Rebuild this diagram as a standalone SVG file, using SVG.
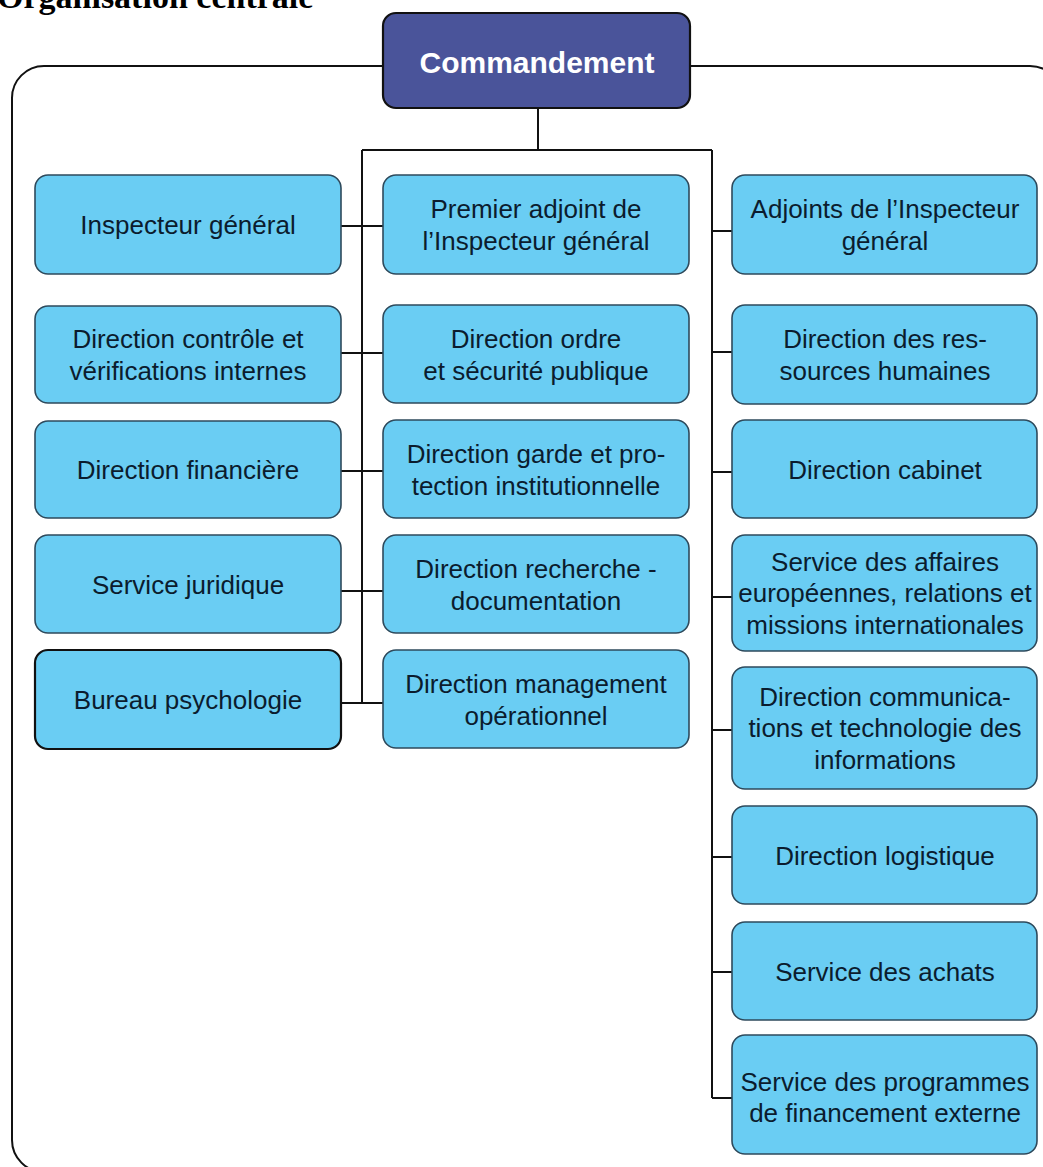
<svg xmlns="http://www.w3.org/2000/svg" width="1043" height="1167" viewBox="0 0 1043 1167">
<style>
.box{fill:#6ACDF3;stroke:#2E4A5C;stroke-width:1.6}
.box2{fill:#6ACDF3;stroke:#111;stroke-width:2.2}
.t{font-family:"Liberation Sans",Arial,sans-serif;font-size:26px;fill:#0B1C2E;text-anchor:middle}
.ln{fill:none;stroke:#111;stroke-width:2}
</style>
<rect width="1043" height="1167" fill="#fff"/>
<text x="-3" y="8" font-family="Liberation Serif,'Times New Roman',serif" font-weight="bold" font-size="34" fill="#000">Organisation centrale</text>
<rect id="frame" x="12" y="66" width="1050" height="1106" rx="32" ry="32" class="ln"/>
<g id="connectors" class="ln">
<path d="M538 108V150M362 150H712M362 150V703M712 150V1098"/>
<path d="M341 226H383M341 353H383M341 471H383M341 591H383M341 703H383"/>
<path d="M712 231H732M712 352H732M712 472H732M712 597H732M712 730H732M712 857H732M712 972H732M712 1098H732"/>
</g>
<g id="commandement">
<rect x="383" y="13" width="307" height="95" rx="13" fill="#4A549A" stroke="#111" stroke-width="2.2"/>
<text x="537" y="73" font-family="Liberation Sans,Arial,sans-serif" font-weight="bold" font-size="30" fill="#fff" text-anchor="middle">Commandement</text>
</g>
<g id="inspecteur-general"><rect class="box" x="35" y="175" width="306" height="99" rx="13"/><text class="t" x="188" y="234">Inspecteur général</text></g>
<g id="direction-controle"><rect class="box" x="35" y="306" width="306" height="97" rx="13"/><text class="t" x="188" y="348">Direction contrôle et</text><text class="t" x="188" y="380">vérifications internes</text></g>
<g id="direction-financiere"><rect class="box" x="35" y="421" width="306" height="97" rx="13"/><text class="t" x="188" y="479">Direction financière</text></g>
<g id="service-juridique"><rect class="box" x="35" y="535" width="306" height="98" rx="13"/><text class="t" x="188" y="594">Service juridique</text></g>
<g id="bureau-psychologie"><rect class="box2" x="35" y="650" width="306" height="99" rx="13"/><text class="t" x="188" y="709">Bureau psychologie</text></g>
<g id="premier-adjoint"><rect class="box" x="383" y="175" width="306" height="99" rx="13"/><text class="t" x="536" y="218">Premier adjoint de</text><text class="t" x="536" y="250">l’Inspecteur général</text></g>
<g id="direction-ordre"><rect class="box" x="383" y="305" width="306" height="98" rx="13"/><text class="t" x="536" y="348">Direction ordre</text><text class="t" x="536" y="380">et sécurité publique</text></g>
<g id="direction-garde"><rect class="box" x="383" y="420" width="306" height="98" rx="13"/><text class="t" x="536" y="463">Direction garde et pro-</text><text class="t" x="536" y="495">tection institutionnelle</text></g>
<g id="direction-recherche"><rect class="box" x="383" y="535" width="306" height="98" rx="13"/><text class="t" x="536" y="578">Direction recherche -</text><text class="t" x="536" y="610">documentation</text></g>
<g id="direction-management"><rect class="box" x="383" y="650" width="306" height="98" rx="13"/><text class="t" x="536" y="693">Direction management</text><text class="t" x="536" y="725">opérationnel</text></g>
<g id="adjoints"><rect class="box" x="732" y="175" width="305" height="99" rx="13"/><text class="t" x="885" y="218">Adjoints de l’Inspecteur</text><text class="t" x="885" y="250">général</text></g>
<g id="direction-rh"><rect class="box" x="732" y="305" width="305" height="99" rx="13"/><text class="t" x="885" y="348">Direction des res-</text><text class="t" x="885" y="380">sources humaines</text></g>
<g id="direction-cabinet"><rect class="box" x="732" y="420" width="305" height="98" rx="13"/><text class="t" x="885" y="479">Direction cabinet</text></g>
<g id="service-affaires"><rect class="box" x="732" y="535" width="305" height="116" rx="13"/><text class="t" x="885" y="571">Service des affaires</text><text class="t" x="885" y="602">européennes, relations et</text><text class="t" x="885" y="634">missions internationales</text></g>
<g id="direction-communications"><rect class="box" x="732" y="667" width="305" height="122" rx="13"/><text class="t" x="885" y="706">Direction communica-</text><text class="t" x="885" y="737">tions et technologie des</text><text class="t" x="885" y="769">informations</text></g>
<g id="direction-logistique"><rect class="box" x="732" y="806" width="305" height="98" rx="13"/><text class="t" x="885" y="865">Direction logistique</text></g>
<g id="service-achats"><rect class="box" x="732" y="922" width="305" height="98" rx="13"/><text class="t" x="885" y="981">Service des achats</text></g>
<g id="service-programmes"><rect class="box" x="732" y="1035" width="305" height="119" rx="13"/><text class="t" x="885" y="1091">Service des programmes</text><text class="t" x="885" y="1122">de financement externe</text></g>
</svg>
